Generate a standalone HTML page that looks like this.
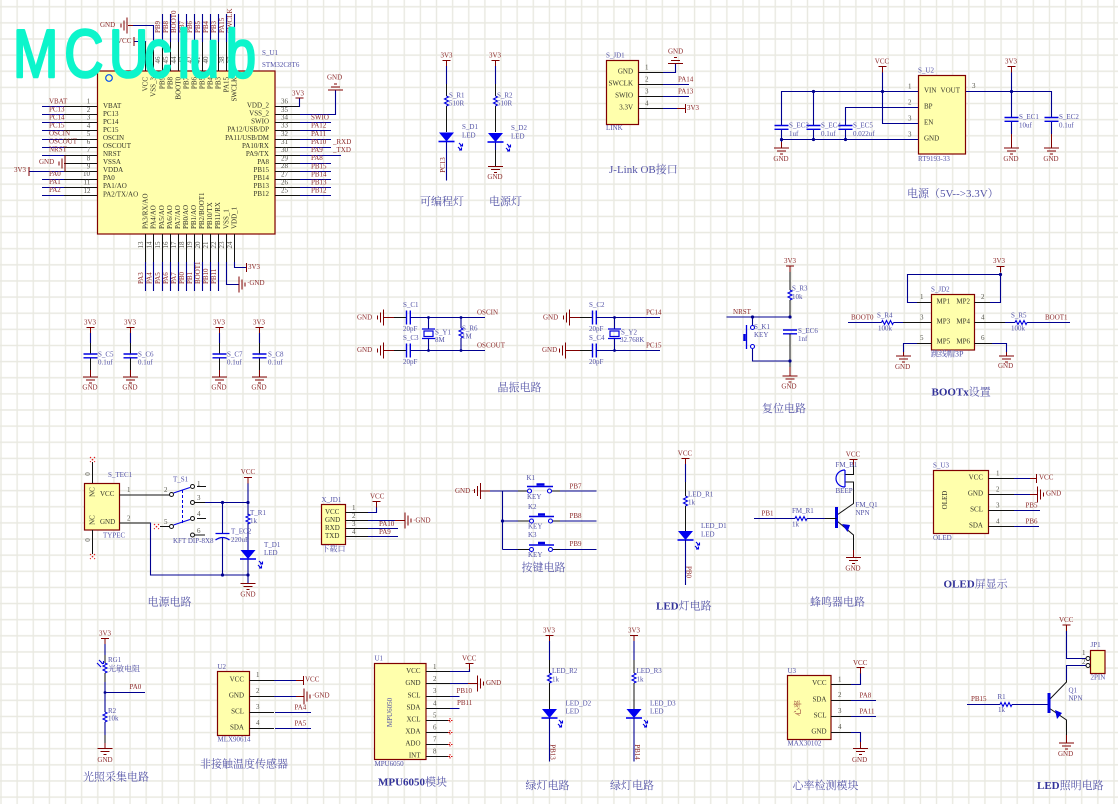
<!DOCTYPE html>
<html><head><meta charset="utf-8"><style>
html,body{margin:0;padding:0;background:#fff}
svg{display:block}
text{font-family:"Liberation Serif","Noto Serif CJK SC",serif;font-size:7px;dominant-baseline:central}
.p{fill:#33332a}.m{fill:#55554a}.r{fill:#8c2a2a}.b{fill:#5252a6}
.t text{font-size:11px;fill:#5656a8}
.t tspan.h{font-weight:bold;fill:#33339a}
.cj{font-size:8px}
.w{stroke:#000090;fill:none;stroke-width:1.1}
.k{stroke:#111;fill:none;stroke-width:1}
.d{stroke:#800000;fill:none;stroke-width:1}
.e{stroke:#0000e0;fill:none;stroke-width:1.1}
.box{fill:#ffffac;stroke:#800000;stroke-width:1.2}
.dot{fill:#000090}
.x{stroke:#e01010;fill:none;stroke-width:1;stroke-dasharray:1.5 1.5}
</style></head><body>
<svg width="1118" height="804" viewBox="0 0 1118 804" xmlns="http://www.w3.org/2000/svg">
<defs>
<pattern id="grid" x="1" y="6.74" width="16.13" height="16.13" patternUnits="userSpaceOnUse"><path d="M0 0V16.13M16.13 0V16.13M0 0H16.13M0 16.13H16.13" stroke="#e9e9e1" stroke-width="1.4" fill="none"/></pattern>
<g id="gd"><path class="d" d="M-7.5 0H7.5M-4.5 3H4.5M-1.5 6H1.5"/></g>
<g id="gu"><path class="d" d="M-7.5 0H7.5M-4.5 -3H4.5M-1.5 -6H1.5"/></g>
<g id="gl"><path class="d" d="M0 -8V8M-3 -5V5M-6 -2V2"/></g>
<g id="gr"><path class="d" d="M0 -8V8M3 -5V5M6 -2V2"/></g>
<g id="td"><path class="d" d="M-4 0H4M0 0V6"/></g>
<g id="rv"><path class="e" d="M0 0L2 1L-2 3L2 5L-2 7L2 9L0 10"/></g>
<g id="rh"><path class="e" d="M0 0L1 -2L3 2L5 -2L7 2L9 -2L11 2L12 0"/></g>
<g id="led"><path fill="#0000f0" d="M-7.5 0H7.5L0 9Z"/><path stroke="#0000f0" stroke-width="1.6" d="M-8 9H8"/></g>
<g id="ar"><path class="e" d="M0 0L3 3M1 3H3.5V0.5M-1 4L2 7M0 7H2.5V4.5"/></g>
<g id="cv"><path stroke="#0000e0" stroke-width="1.4" d="M-7 0H7M-7 3.8H7"/></g>
<g id="ch"><path stroke="#0000e0" stroke-width="1.4" d="M0 -7V7M3.8 -7V7"/></g>
</defs>
<rect width="1118" height="804" fill="#fff"/>
<rect width="1118" height="804" fill="url(#grid)"/>
<g style="filter:blur(.3px)">

<!-- MCU -->
<rect class="box" x="97.5" y="71" width="177.5" height="163"/>
<circle cx="109" cy="78" r="3.3" fill="none" stroke="#0050f0" stroke-width="1.2"/>
<path class="k" d="M64 106.5H97M64 114.5H97M64 122.5H97M64 130.5H97M64 139.5H97M64 147.5H97M64 155.5H97M64 163.5H97M64 171.5H97M64 179.5H97M64 187.5H97M64 195.5H97"/>
<path class="w" d="M42 106.5H64M42 114.5H64M42 122.5H64M42 130.5H64M42 139.5H64M42 147.5H64M42 155.5H64M42 179.5H64M42 187.5H64M42 195.5H64M29 171.5H64"/>
<path class="k" d="M275 106.5H299M275 114.5H300M275 122.5H300M275 130.5H300M275 139.5H300M275 147.5H300M275 155.5H300M275 163.5H300M275 171.5H300M275 179.5H300M275 187.5H300M275 195.5H300"/>
<path class="w" d="M299 106.5H299.5V98M300 114.5H335.5V90M300 122.5H331M300 130.5H331M300 139.5H331M300 147.5H331M300 155.5H341M300 163.5H331M300 171.5H331M300 179.5H331M300 187.5H331M300 195.5H331"/>
<path class="k" d="M145.5 71V42M153.5 71V42M162.5 71V42M170.5 71V42M178.5 71V42M186.5 71V42M194.5 71V42M202.5 71V42M210.5 71V42M218.5 71V42M226.5 71V42M234.5 71V42"/>
<path class="w" d="M145.5 42V41.5H134M153.5 42V25.5H133M162.5 42V14M170.5 42V14M178.5 42V14M186.5 42V14M194.5 42V14M202.5 42V14M210.5 42V14M218.5 42V14M226.5 42V14M234.5 42V14"/>
<path class="k" d="M145.5 234V262M153.5 234V262M162.5 234V262M170.5 234V262M178.5 234V262M186.5 234V262M194.5 234V262M202.5 234V262M210.5 234V262M218.5 234V262M226.5 234V262M234.5 234V262"/>
<path class="w" d="M145.5 262V291M153.5 262V291M162.5 262V291M170.5 262V291M178.5 262V291M186.5 262V291M194.5 262V291M202.5 262V291M210.5 262V291M218.5 262V291M226.5 262V284.5H239M234.5 262V267.5H246"/>
<path class="d" d="M134 37V46M29 167V176M299.5 98H295.5M299.5 98H303.5M246.5 263V272M133 25.5H128M64 163.5H65"/>
<use href="#gl" x="127" y="25.5"/><use href="#gl" x="65" y="163.5"/><use href="#gu" x="335.5" y="90"/><use href="#gr" x="239" y="284.5"/>
<g class="p">
<text x="103" y="106">VBAT</text><text x="103" y="114">PC13</text><text x="103" y="122">PC14</text><text x="103" y="130">PC15</text><text x="103" y="138">OSCIN</text><text x="103" y="146">OSCOUT</text><text x="103" y="154">NRST</text><text x="103" y="162">VSSA</text><text x="103" y="170">VDDA</text><text x="103" y="178">PA0</text><text x="103" y="186">PA1/AO</text><text x="103" y="194.5">PA2/TX/AO</text>
<g text-anchor="end"><text x="269" y="105.5">VDD_2</text><text x="269" y="113.5">VSS_2</text><text x="269" y="121.5">SWIO</text><text x="269" y="129.5">PA12/USB/DP</text><text x="269" y="138">PA11/USB/DM</text><text x="269" y="146">PA10/RX</text><text x="269" y="154">PA9/TX</text><text x="269" y="162">PA8</text><text x="269" y="170">PB15</text><text x="269" y="178">PB14</text><text x="269" y="186">PB13</text><text x="269" y="194">PB12</text>
<text x="145.5" y="77" transform="rotate(-90 145.5 77)">VCC</text><text x="153.5" y="77" transform="rotate(-90 153.5 77)">VSS_3</text><text x="162.5" y="77" transform="rotate(-90 162.5 77)">PB9</text><text x="170.5" y="77" transform="rotate(-90 170.5 77)">PB8</text><text x="178.5" y="77" transform="rotate(-90 178.5 77)">BOOT0</text><text x="186.5" y="77" transform="rotate(-90 186.5 77)">PB7</text><text x="194.5" y="77" transform="rotate(-90 194.5 77)">PB6</text><text x="202.5" y="77" transform="rotate(-90 202.5 77)">PB5</text><text x="210.5" y="77" transform="rotate(-90 210.5 77)">PB4</text><text x="218.5" y="77" transform="rotate(-90 218.5 77)">PB3</text><text x="226.5" y="77" transform="rotate(-90 226.5 77)">PA15</text><text x="234.5" y="77" transform="rotate(-90 234.5 77)">SWCLK</text></g>
<text x="145.5" y="229" transform="rotate(-90 145.5 229)">PA3/RX/AO</text><text x="153.5" y="229" transform="rotate(-90 153.5 229)">PA4/AO</text><text x="162" y="229" transform="rotate(-90 162 229)">PA5/AO</text><text x="170" y="229" transform="rotate(-90 170 229)">PA6/AO</text><text x="178" y="229" transform="rotate(-90 178 229)">PA7/AO</text><text x="186" y="229" transform="rotate(-90 186 229)">PB0/AO</text><text x="194" y="229" transform="rotate(-90 194 229)">PB1/AO</text><text x="202" y="229" transform="rotate(-90 202 229)">PB2/BOOT1</text><text x="210" y="229" transform="rotate(-90 210 229)">PB10/TX</text><text x="218" y="229" transform="rotate(-90 218 229)">PB11/RX</text><text x="226.5" y="229" transform="rotate(-90 226.5 229)">VSS_1</text><text x="234.5" y="229" transform="rotate(-90 234.5 229)">VDD_1</text>
</g>
<g class="m" text-anchor="middle">
<text x="88.5" y="101.5">1</text><text x="88.5" y="110">2</text><text x="88.5" y="117.5">3</text><text x="88.5" y="126">4</text><text x="88.5" y="134">5</text><text x="88.5" y="142">6</text><text x="88.5" y="150">7</text><text x="88.5" y="158.5">8</text><text x="88.5" y="166.5">9</text><text x="86.5" y="174">10</text><text x="87" y="182.5">11</text><text x="87" y="191">12</text>
<text x="284.5" y="101.5">36</text><text x="284.5" y="110">35</text><text x="284.5" y="117.5">34</text><text x="284.5" y="125.5">33</text><text x="284.5" y="134">32</text><text x="284.5" y="142">31</text><text x="284.5" y="150">30</text><text x="284.5" y="158.5">29</text><text x="284.5" y="166">28</text><text x="284.5" y="174.5">27</text><text x="284.5" y="182.5">26</text><text x="284.5" y="190.5">25</text>
<text x="141.5" y="60" transform="rotate(-90 141.5 60)">48</text><text x="149.5" y="60" transform="rotate(-90 149.5 60)">47</text><text x="158" y="60" transform="rotate(-90 158 60)">46</text><text x="166" y="60" transform="rotate(-90 166 60)">45</text><text x="174" y="60" transform="rotate(-90 174 60)">44</text><text x="182" y="60" transform="rotate(-90 182 60)">43</text><text x="190" y="60" transform="rotate(-90 190 60)">42</text><text x="198" y="60" transform="rotate(-90 198 60)">41</text><text x="206" y="60" transform="rotate(-90 206 60)">40</text><text x="214" y="60" transform="rotate(-90 214 60)">39</text><text x="222" y="60" transform="rotate(-90 222 60)">38</text><text x="230" y="60" transform="rotate(-90 230 60)">37</text>
<text x="141" y="245" transform="rotate(-90 141 245)">13</text><text x="149.5" y="245" transform="rotate(-90 149.5 245)">14</text><text x="158" y="245" transform="rotate(-90 158 245)">15</text><text x="166" y="245" transform="rotate(-90 166 245)">16</text><text x="174" y="245" transform="rotate(-90 174 245)">17</text><text x="182" y="245" transform="rotate(-90 182 245)">18</text><text x="190" y="245" transform="rotate(-90 190 245)">19</text><text x="198" y="245" transform="rotate(-90 198 245)">20</text><text x="206" y="245" transform="rotate(-90 206 245)">21</text><text x="214" y="245" transform="rotate(-90 214 245)">22</text><text x="222" y="245" transform="rotate(-90 222 245)">23</text><text x="230" y="245" transform="rotate(-90 230 245)">24</text>
</g>
<g class="r">
<text x="49" y="101.5">VBAT</text><text x="49" y="109.5">PC13</text><text x="49" y="117.5">PC14</text><text x="49" y="125.5">PC15</text><text x="49" y="133.5">OSCIN</text><text x="49" y="141.5">OSCOUT</text><text x="49" y="149.5">NRST</text><text x="49" y="174">PA0</text><text x="49" y="182">PA1</text><text x="49" y="190">PA2</text>
<text x="39" y="162">GND</text><text x="14" y="170">3V3</text><text x="100" y="25">GND</text><text x="117" y="41">VCC</text>
<text x="292" y="93.5">3V3</text><text x="327" y="77.5">GND</text>
<text x="311" y="117.5">SWIO</text><text x="311" y="125.5">PA12</text><text x="311" y="134">PA11</text><text x="311" y="142">PA10</text><text x="333" y="142">_RXD</text><text x="311" y="150">PA9</text><text x="333" y="150">_TXD</text><text x="311" y="158">PA8</text><text x="311" y="166.5">PB15</text><text x="311" y="174.5">PB14</text><text x="311" y="182.5">PB13</text><text x="311" y="190.5">PB12</text>
<text x="248" y="267">3V3</text><text x="247" y="283">·GND</text>
<text x="158" y="33" transform="rotate(-90 158 33)">PB9</text><text x="166" y="33" transform="rotate(-90 166 33)">PB8</text><text x="174" y="33" transform="rotate(-90 174 33)">BOOT0</text><text x="182" y="33" transform="rotate(-90 182 33)">PB7</text>
<text x="190" y="33" transform="rotate(-90 190 33)">PB6</text><text x="198" y="33" transform="rotate(-90 198 33)">PB5</text><text x="206" y="33" transform="rotate(-90 206 33)">PB4</text><text x="214" y="33" transform="rotate(-90 214 33)">PB3</text><text x="222" y="33" transform="rotate(-90 222 33)">PA15</text><text x="230" y="33" transform="rotate(-90 230 33)">SWCLK</text>
<text x="141" y="284" transform="rotate(-90 141 284)">PA3</text><text x="149.5" y="284" transform="rotate(-90 149.5 284)">PA4</text><text x="158" y="284" transform="rotate(-90 158 284)">PA5</text><text x="166" y="284" transform="rotate(-90 166 284)">PA6</text><text x="174" y="284" transform="rotate(-90 174 284)">PA7</text><text x="182" y="284" transform="rotate(-90 182 284)">PB0</text><text x="190" y="284" transform="rotate(-90 190 284)">PB1</text><text x="198" y="284" transform="rotate(-90 198 284)">BOOT1</text><text x="206" y="284" transform="rotate(-90 206 284)">PB10</text><text x="214" y="284" transform="rotate(-90 214 284)">PB11</text>
</g>
<g class="b"><text x="262" y="53">S_U1</text><text x="262" y="65">STM32C8T6</text></g>

<!-- LEDs PC13 / power -->
<use href="#td" x="446.5" y="60.5"/><use href="#td" x="495.5" y="60.5"/>
<path class="w" d="M446.5 66V84M495.5 66V84M446.5 141V180.5M495.5 141V150"/>
<path class="k" d="M446.5 84V96M446.5 106V132M495.5 84V96M495.5 106V132M495.5 150V166"/>
<use href="#rv" x="446.5" y="96"/><use href="#rv" x="495.5" y="96"/>
<use href="#led" x="446.5" y="132.5"/><use href="#led" x="495.5" y="133"/>
<use href="#ar" x="459" y="143"/><use href="#ar" x="507" y="144"/>
<use href="#gd" x="495.5" y="166.5"/>
<g class="r" text-anchor="middle"><text x="446.5" y="55.5">3V3</text><text x="495" y="55.5">3V3</text><text x="495" y="177">GND</text><text x="443" y="165" transform="rotate(-90 443 165)">PC13</text></g>
<g class="b"><text x="449" y="95.5">S_R1</text><text x="449" y="103.5">510R</text><text x="497" y="95.5">S_R2</text><text x="497" y="103.5">510R</text><text x="462" y="127">S_D1</text><text x="462" y="135.5">LED</text><text x="511" y="128">S_D2</text><text x="511" y="136.5">LED</text></g>

<!-- JD1 -->
<rect class="box" x="606.5" y="60.5" width="32" height="64"/>
<path class="k" d="M638.5 72.5H663M638.5 84.5H663M638.5 96.5H663M638.5 108.5H663"/>
<path class="w" d="M663 72.5H675.5V64M663 84.5H689M663 96.5H689M663 108.5H677"/>
<path class="d" d="M677 108.5H685.5M685.5 104V113"/>
<use href="#gu" x="675.5" y="63.5"/>
<g class="p" text-anchor="end"><text x="633" y="71.5">GND</text><text x="633" y="83.5">SWCLK</text><text x="633" y="95.5">SWIO</text><text x="633" y="107.5">3.3V</text></g>
<g class="m"><text x="645" y="67.5">1</text><text x="645" y="79.5">2</text><text x="645" y="91.5">3</text><text x="645" y="103.5">4</text></g>
<g class="r"><text x="668" y="51.5">GND</text><text x="678" y="79.5">PA14</text><text x="678" y="91.5">PA13</text><text x="687" y="108">3V3</text></g>
<g class="b"><text x="606" y="55.5">S_JD1</text><text x="606" y="128">LINK</text></g>

<!-- Regulator -->
<rect class="box" x="918.5" y="75.5" width="47" height="78.5"/>
<path class="w" d="M918 91.5H781.5V125.5M813.5 91.5V125.5M918 107.5H845.5V125.5M882.5 72V123.5H918M781.5 129.5V139.5M813.5 129.5V139.5M845.5 129.5V139.5M781.5 139.5H918M781.5 139.5V142M966 91.5H1051.5V117M1011.5 72V117M1011.5 121V134M1051.5 121V134"/>
<path class="d" d="M781.5 142V148M1011.5 134V148M1051.5 134V148"/>
<use href="#td" x="882.5" y="66.5"/><use href="#td" x="1011.5" y="66.5"/>
<use href="#cv" x="781.5" y="125.5"/><use href="#cv" x="813.5" y="125.5"/><use href="#cv" x="845.5" y="125.5"/><use href="#cv" x="1011.5" y="117.5"/><use href="#cv" x="1051.5" y="117.5"/>
<use href="#gd" x="781.5" y="148"/><use href="#gd" x="1011.5" y="148"/><use href="#gd" x="1051.5" y="148"/>
<g class="dot"><circle cx="813.5" cy="91.5" r="1.6"/><circle cx="882.5" cy="91.5" r="1.6"/><circle cx="781.5" cy="139.5" r="1.6"/><circle cx="813.5" cy="139.5" r="1.6"/><circle cx="845.5" cy="139.5" r="1.6"/><circle cx="1011.5" cy="91.5" r="1.6"/></g>
<g class="p"><text x="924" y="90.5">VIN</text><text x="960" y="90.5" text-anchor="end">VOUT</text><text x="924" y="106.5">BP</text><text x="924" y="122.5">EN</text><text x="924" y="138.5">GND</text></g>
<g class="m"><text x="908" y="86.5">1</text><text x="908" y="102.5">2</text><text x="908" y="118.5">3</text><text x="908" y="134.5">3</text><text x="972" y="86">3</text></g>
<g class="r" text-anchor="middle"><text x="882" y="61.5">VCC</text><text x="1011" y="61.5">3V3</text><text x="781" y="159">GND</text><text x="1011" y="159">GND</text><text x="1051" y="159">GND</text></g>
<g class="b"><text x="918" y="70.5">S_U2</text><text x="918" y="159">RT9193-33</text><text x="789" y="125.5">S_EC3</text><text x="789" y="134">1uf</text><text x="821" y="125.5">S_EC4</text><text x="821" y="134">0.1uf</text><text x="853" y="125.5">S_EC5</text><text x="853" y="134">0.022uf</text><text x="1019" y="117">S_EC1</text><text x="1019" y="125.5">10uf</text><text x="1059" y="117">S_EC2</text><text x="1059" y="125.5">0.1uf</text></g>

<!-- Decoupling -->
<use href="#td" x="90.5" y="327.5"/><use href="#td" x="130.5" y="327.5"/><use href="#td" x="219.5" y="327.5"/><use href="#td" x="259.5" y="327.5"/>
<path class="w" d="M90.5 333V343M130.5 333V343M219.5 333V343M259.5 333V343"/>
<path class="k" d="M90.5 343V354M130.5 343V354M219.5 343V354M259.5 343V354M90.5 358V370M130.5 358V370M219.5 358V370M259.5 358V370"/>
<path class="d" d="M90.5 370V377M130.5 370V377M219.5 370V377M259.5 370V377"/>
<use href="#cv" x="90.5" y="354"/><use href="#cv" x="130.5" y="354"/><use href="#cv" x="219.5" y="354"/><use href="#cv" x="259.5" y="354"/>
<use href="#gd" x="90.5" y="377"/><use href="#gd" x="130.5" y="377"/><use href="#gd" x="219.5" y="377"/><use href="#gd" x="259.5" y="377"/>
<g class="r" text-anchor="middle"><text x="90" y="322.5">3V3</text><text x="130" y="322.5">3V3</text><text x="219" y="322.5">3V3</text><text x="259" y="322.5">3V3</text><text x="90" y="387.5">GND</text><text x="130" y="387.5">GND</text><text x="219" y="387.5">GND</text><text x="259" y="387.5">GND</text></g>
<g class="b"><text x="98" y="354.5">S_C5</text><text x="98" y="362.5">0.1uf</text><text x="138" y="354.5">S_C6</text><text x="138" y="362.5">0.1uf</text><text x="227" y="354.5">S_C7</text><text x="227" y="362.5">0.1uf</text><text x="268" y="354.5">S_C8</text><text x="268" y="362.5">0.1uf</text></g>

<!-- Crystal 1 -->
<use href="#gl" x="383.5" y="317.5"/><use href="#gl" x="383.5" y="350.5"/>
<path class="d" d="M383.5 317.5H394M383.5 350.5H394"/>
<path class="k" d="M394 317.5H406M394 350.5H406"/>
<use href="#ch" x="406.5" y="317.5"/><use href="#ch" x="406.5" y="350.5"/>
<path class="w" d="M410 317.5H485M410 350.5H485M428.5 317.5V329M428.5 339V350.5M461 317.5V328M461 338V350.5"/>
<use href="#rv" x="461" y="328"/>
<rect x="424" y="331" width="9" height="5.5" fill="none" stroke="#0000e0" stroke-width="1.2"/><path stroke="#0000e0" stroke-width="1.2" d="M422 329H435M422 338.5H435"/>
<g class="dot"><circle cx="428.5" cy="317.5" r="1.4"/><circle cx="461" cy="317.5" r="1.4"/><circle cx="428.5" cy="350.5" r="1.4"/><circle cx="461" cy="350.5" r="1.4"/></g>
<g class="r"><text x="357" y="317.5">GND</text><text x="357" y="350">GND</text><text x="477" y="312.5">OSCIN</text><text x="477" y="345.5">OSCOUT</text></g>
<g class="b"><text x="403" y="305">S_C1</text><text x="403" y="329">20pF</text><text x="403" y="338">S_C3</text><text x="403" y="362">20pF</text><text x="435" y="332.5">S_Y1</text><text x="435" y="340">8M</text><text x="462" y="328.5">S_R6</text><text x="462" y="336.5">1M</text></g>

<!-- Crystal 2 -->
<use href="#gl" x="569.5" y="317.5"/><use href="#gl" x="565.5" y="350.5"/>
<path class="d" d="M569.5 317.5H580M565.5 350.5H580"/>
<path class="k" d="M580 317.5H592M580 350.5H592"/>
<use href="#ch" x="592.5" y="317.5"/><use href="#ch" x="592.5" y="350.5"/>
<path class="w" d="M596 317.5H660M596 350.5H660M614.5 317.5V329M614.5 339V350.5"/>
<rect x="610" y="331" width="9" height="5.5" fill="none" stroke="#0000e0" stroke-width="1.2"/><path stroke="#0000e0" stroke-width="1.2" d="M608 329H621M608 338.5H621"/>
<g class="dot"><circle cx="614.5" cy="317.5" r="1.4"/><circle cx="614.5" cy="350.5" r="1.4"/></g>
<g class="r"><text x="543" y="317.5">GND</text><text x="542" y="350">GND</text><text x="646" y="312.5">PC14</text><text x="646" y="345.5">PC15</text></g>
<g class="b"><text x="589" y="305">S_C2</text><text x="589" y="329">20pF</text><text x="589" y="338">S_C4</text><text x="589" y="362">20pF</text><text x="621" y="332.5">S_Y2</text><text x="620" y="340">32.768K</text></g>

<!-- Reset -->
<use href="#td" x="790" y="266"/><use href="#rv" x="790" y="290"/><use href="#cv" x="790" y="330"/><use href="#gd" x="790" y="376"/>
<path class="k" d="M790 272V290M790 300V317M790 334V367"/>
<path class="d" d="M790 367V376"/>
<path class="w" d="M726.5 317H790M752.5 317V326M752.5 349V361H790"/>
<circle cx="752.5" cy="327.5" r="2" fill="#fff" stroke="#0000e0" stroke-width="1.1"/><circle cx="752.5" cy="346.5" r="2" fill="#fff" stroke="#0000e0" stroke-width="1.1"/>
<path stroke="#0000e0" stroke-width="1.3" d="M746.5 325V349"/><path stroke="#0000e0" stroke-width="2.5" d="M744.5 334V341"/>
<g class="dot"><circle cx="790" cy="317" r="1.6"/><circle cx="752.5" cy="317" r="1.6"/><circle cx="790" cy="361" r="1.6"/></g>
<g class="r" text-anchor="middle"><text x="790" y="261">3V3</text><text x="742" y="312">NRST</text><text x="789" y="386.5">GND</text></g>
<g class="b"><text x="792" y="288.5">S_R3</text><text x="792" y="297">10k</text><text x="754" y="327">S_K1</text><text x="754" y="335">KEY</text><text x="798" y="331">S_EC6</text><text x="798" y="339">1nf</text></g>

<!-- BOOT -->
<rect class="box" x="931.5" y="294.5" width="43" height="55.5"/>
<path class="k" d="M931.5 302.5H917M931.5 322.5H903M931.5 343.5H917M974.5 302.5H990M974.5 322.5H1005M974.5 343.5H992"/>
<path class="w" d="M917 302.5H907.5V274.5H1000.5V302.5H990M917 343.5H903.5V352M992 343.5H1006.5V352M848 322.5H881.5M893.5 322.5H903M1005 322.5H1015M1027 322.5H1070"/>
<path class="d" d="M903.5 352V356M1006.5 352V356"/>
<use href="#td" x="1000.5" y="266.5"/><use href="#rh" x="881.5" y="322.5"/><use href="#rh" x="1015" y="322.5"/><use href="#gd" x="903.5" y="356"/><use href="#gd" x="1006.5" y="356"/>
<circle class="dot" cx="1000.5" cy="274.5" r="1.6"/>
<g class="p"><text x="936.5" y="301.5">MP1</text><text x="970" y="301.5" text-anchor="end">MP2</text><text x="936.5" y="321.5">MP3</text><text x="970" y="321.5" text-anchor="end">MP4</text><text x="936.5" y="341.5">MP5</text><text x="970" y="341.5" text-anchor="end">MP6</text></g>
<g class="m"><text x="920" y="297">1</text><text x="981" y="297">2</text><text x="920" y="317.5">3</text><text x="981" y="317.5">4</text><text x="920" y="338">5</text><text x="981" y="338">6</text></g>
<g class="r"><text x="851" y="317.5">BOOT0</text><text x="1045" y="317.5">BOOT1</text><text x="993" y="261">3V3</text><text x="895" y="367">GND</text><text x="998" y="366">GND</text></g>
<g class="b"><text x="931" y="289.5">S_JD2</text><text class="cj" x="931" y="354">跳线帽3P</text><text x="877" y="315.5">S_R4</text><text x="878" y="328.5">100k</text><text x="1011" y="315.5">S_R5</text><text x="1011" y="328.5">100k</text></g>

<!-- USB power -->
<rect class="box" x="84.5" y="483.5" width="35" height="46.5"/>
<path class="k" d="M92.5 483V462M92.5 530V554M119.5 495H150M119.5 523H150"/>
<path class="x" d="M90 457L95 462M95 457L90 462M90 554L95 559M95 554L90 559M154 524L159 529M159 524L154 529"/>
<path class="k" d="M150 495H170M194.5 502.5H205M169.5 526.5H160M197 486.5H206M197 518.5H206M194.5 535H205"/>
<path class="w" d="M205 502.5H248M150 523H150.5V575H248M222.5 502.5V533M222.5 538V575M248 483V515M248 523V550M248 559V583"/>
<use href="#td" x="248" y="477.5"/><use href="#rv" x="248" y="514"/><use href="#led" x="248" y="550"/><use href="#gd" x="248" y="583.5"/><use href="#ar" x="259" y="561"/>
<path stroke="#0000e0" stroke-width="1.3" fill="none" d="M215.5 533.5H229.5M215.5 540Q222.5 535 229.5 540"/>
<path class="e" d="M173.5 493L190 487.5M173.5 525L190 519.5"/>
<path stroke="#0000e0" fill="none" stroke-dasharray="3 2" d="M182.5 490V523"/>
<g fill="#fff" stroke="#111" stroke-width="1"><circle cx="171.5" cy="494.5" r="2"/><circle cx="192.5" cy="486.5" r="2"/><circle cx="192.5" cy="502.5" r="2"/><circle cx="192.5" cy="518.5" r="2"/><circle cx="171.5" cy="526.5" r="2"/><circle cx="192.5" cy="535" r="2"/></g>
<g class="dot"><circle cx="222.5" cy="502.5" r="1.6"/><circle cx="248" cy="502.5" r="1.6"/><circle cx="222.5" cy="575" r="1.6"/><circle cx="248" cy="575" r="1.6"/></g>
<g class="p"><text x="100" y="494">VCC</text><text x="100" y="522">GND</text><text x="92.5" y="492" text-anchor="middle" transform="rotate(-90 92.5 492)">NC</text><text x="92.5" y="520" text-anchor="middle" transform="rotate(-90 92.5 520)">NC</text></g>
<g class="m"><text x="88" y="474" transform="rotate(-90 88 474)" text-anchor="middle">0</text><text x="88" y="540" transform="rotate(-90 88 540)" text-anchor="middle">0</text><text x="127" y="490">1</text><text x="127" y="518.5">2</text><text x="164" y="490">2</text><text x="197" y="484">1</text><text x="197" y="498">3</text><text x="197" y="514">4</text><text x="164" y="522">5</text><text x="197" y="531">6</text></g>
<g class="r" text-anchor="middle"><text x="248" y="472">VCC</text><text x="248" y="594.5">GND</text></g>
<g class="b"><text x="108" y="475">S_TEC1</text><text x="103" y="535.5">TYPEC</text><text x="173" y="479.5">T_S1</text><text x="173" y="541">KFT DIP-8X8</text><text x="231" y="531.5">T_EC2</text><text x="231" y="540">220uF</text><text x="250" y="513">T_R1</text><text x="250" y="521">1k</text><text x="264" y="545">T_D1</text><text x="264" y="553">LED</text></g>

<!-- X_JD1 -->
<rect class="box" x="321.5" y="504.5" width="24" height="40"/>
<path class="k" d="M345.5 512.5H368M345.5 520.5H368M345.5 528.5H368M345.5 536.5H368"/>
<path class="w" d="M368 512.5H376.5V507M368 520.5H395M368 528.5H398M368 536.5H398"/>
<path class="d" d="M395 520.5H405"/>
<use href="#td" x="376.5" y="501.5"/><use href="#gr" x="405" y="520.5"/>
<g class="p"><text x="325" y="512">VCC</text><text x="325" y="520">GND</text><text x="325" y="528">RXD</text><text x="325" y="536">TXD</text></g>
<g class="m"><text x="352" y="508">1</text><text x="352" y="516">2</text><text x="352" y="524">3</text><text x="352" y="532">4</text></g>
<g class="r"><text x="370" y="496.5">VCC</text><text x="379" y="524">PA10</text><text x="379" y="532">PA9</text><text x="413" y="520.5">·GND</text></g>
<g class="b"><text x="321.5" y="500">X_JD1</text><text class="cj" x="321.5" y="549">下载口</text></g>

<!-- Keys -->
<use href="#gl" x="480.5" y="491"/>
<path class="d" d="M480.5 491H490"/>
<path class="w" d="M490 491H518M502.5 491V549.5M502.5 521H518M502.5 549.5H518M560 491H596.5M560 521H596.5M560 549.5H596.5"/>
<path class="k" d="M518 491H527M518 521H529M518 549.5H529M551 491H560M553 521H560M553 549.5H560"/>
<path stroke="#0000e0" stroke-width="1.4" d="M527 486.5H553M529 516.5H554M529 545H554"/>
<path stroke="#0000e0" stroke-width="2.5" d="M536.5 484.5H544.5M538 514.5H545M538 543H545"/>
<g fill="#fff" stroke="#0000e0" stroke-width="1.1"><circle cx="529.5" cy="491" r="2"/><circle cx="549.5" cy="491" r="2"/><circle cx="531.5" cy="521" r="2"/><circle cx="550.5" cy="521" r="2"/><circle cx="531.5" cy="549.5" r="2"/><circle cx="550.5" cy="549.5" r="2"/></g>
<circle class="dot" cx="502.5" cy="521" r="1.6"/>
<g class="r"><text x="455" y="491">GND ·</text><text x="569.5" y="486.5">PB7</text><text x="569.5" y="516">PB8</text><text x="569.5" y="544">PB9</text></g>
<g class="b"><text x="526.5" y="478">K1</text><text x="527" y="497">KEY</text><text x="528" y="507">K2</text><text x="528" y="526.5">KEY</text><text x="528" y="535">K3</text><text x="528" y="555">KEY</text></g>

<!-- LED_D1 -->
<use href="#td" x="685.5" y="458.5"/><use href="#rv" x="685.5" y="496"/><use href="#led" x="685.5" y="531"/><use href="#ar" x="696" y="542"/>
<path class="w" d="M685.5 464V482M685.5 540V585"/><path class="k" d="M685.5 482V496M685.5 506V531"/>
<g class="r" text-anchor="middle"><text x="685" y="453.5">VCC</text><text x="688.5" y="572" transform="rotate(90 688.5 572)">PB0</text></g>
<g class="b"><text x="688" y="494.5">LED_R1</text><text x="688" y="502.5">1k</text><text x="701" y="526">LED_D1</text><text x="701" y="534.5">LED</text></g>

<!-- Buzzer -->
<use href="#td" x="853.5" y="459.5"/>
<path class="k" d="M853.5 465V474.5H845M845 482H853.5V503.5L837 515M837 521L853.5 535V550"/>
<path stroke="#0000e0" stroke-width="1.2" fill="none" d="M845 470V487M845 470A9 8.5 0 0 0 845 487"/>
<path stroke="#0000e0" stroke-width="3" d="M836.5 507V528"/>
<path class="w" d="M754 518.5H795M807 518.5H825"/><path class="k" d="M825 518.5H836.5"/>
<use href="#rh" x="795" y="518.5"/><path fill="#0000e0" d="M842 524L850 525L847.5 532Z"/>
<path class="d" d="M853.5 550V557"/><use href="#gd" x="853.5" y="557.5"/>
<g class="r" text-anchor="middle"><text x="853" y="454.5">VCC</text><text x="853" y="568.5">GND</text></g>
<g class="r"><text x="761.5" y="513.5">PB1</text></g>
<g class="b"><text x="835.5" y="465">FM_B1</text><text x="835.5" y="491">BEEP</text><text x="855.5" y="505">FM_Q1</text><text x="855.5" y="513">NPN</text><text x="792" y="511">FM_R1</text><text x="792" y="524.5">1k</text></g>

<!-- OLED -->
<rect class="box" x="933.5" y="470.5" width="55" height="63"/>
<path class="k" d="M988.5 478.5H1014M988.5 494.5H1014M988.5 510.5H1014M988.5 526.5H1014"/>
<path class="w" d="M1014 478.5H1030M1014 494.5H1030M1014 510.5H1040M1014 526.5H1039"/>
<path class="d" d="M1030 478.5H1036.5M1036.5 474V483M1030 494.5H1037.5"/>
<use href="#gr" x="1037.5" y="494.5"/>
<g class="p" text-anchor="end"><text x="983" y="477.5">VCC</text><text x="983" y="493.5">GND</text><text x="983" y="509.5">SCL</text><text x="983" y="525.5">SDA</text></g>
<text class="p" x="945" y="500" text-anchor="middle" transform="rotate(-90 945 500)">OLED</text>
<g class="m"><text x="996" y="473.5">1</text><text x="996" y="489.5">2</text><text x="996" y="505.5">3</text><text x="996" y="521.5">4</text></g>
<g class="r"><text x="1039" y="477.5">VCC</text><text x="1046" y="493.5">GND</text><text x="1025.5" y="505.5">PB5</text><text x="1025.5" y="521.5">PB6</text></g>
<g class="b"><text x="933" y="465.5">S_U3</text><text x="933" y="538">OLED</text></g>

<!-- Photo -->
<use href="#td" x="105" y="638.5"/><use href="#rv" x="105" y="663"/><use href="#rv" x="105" y="712"/><use href="#gd" x="105" y="748.5"/>
<path class="e" d="M99 660L103 664M101.5 663.5H103.5V661M97 663L101 667"/>
<path class="w" d="M105 644V655M105 682V712M105 692.5H145M105 722V735"/>
<path class="k" d="M105 655V663M105 673V682M105 735V743"/><path class="d" d="M105 743V748"/>
<circle class="dot" cx="105" cy="692.5" r="1.4"/>
<g class="r"><text x="129.5" y="687">PA0</text></g><g class="r" text-anchor="middle"><text x="105" y="633.5">3V3</text><text x="105" y="760">GND</text></g>
<g class="b"><text x="108" y="660">RG1</text><text class="cj" x="108" y="669">光敏电阻</text><text x="108" y="711">R2</text><text x="108" y="718.5">10k</text></g>

<!-- U2 -->
<rect class="box" x="217.5" y="671.5" width="32" height="64"/>
<path class="k" d="M249.5 680.5H274M249.5 696.5H274M249.5 712.5H274M249.5 728.5H274"/>
<path class="w" d="M274 680.5H296M274 696.5H296M275 712.5H311M275 728.5H311"/>
<path class="d" d="M296 680.5H303.5M303.5 676V685M296 696.5H304"/>
<use href="#gr" x="304" y="696.5"/>
<g class="p" text-anchor="end"><text x="244" y="679.5">VCC</text><text x="244" y="695.5">GND</text><text x="244" y="711.5">SCL</text><text x="244" y="727.5">SDA</text></g>
<g class="m"><text x="256" y="675">1</text><text x="256" y="691">2</text><text x="256" y="707">3</text><text x="256" y="723">4</text></g>
<g class="r"><text x="305" y="679.5">VCC</text><text x="312" y="695.5">·GND</text><text x="294.5" y="707.5">PA4</text><text x="294.5" y="723.5">PA5</text></g>
<g class="b"><text x="217.5" y="667">U2</text><text x="217.5" y="739.5">MLX90614</text></g>

<!-- U1 -->
<rect class="box" x="374.5" y="663.5" width="51.5" height="96"/>
<path class="k" d="M426 671.5H450M426 683.5H450M426 696.5H450M426 708.5H450M426 720.5H450M426 732.5H450M426 744.5H450M426 756.5H450"/>
<path class="w" d="M450 671.5H469.5V669M450 683.5H468M450 696.5H459.5M450 708.5H459.5"/>
<path class="d" d="M468 683.5H477.5"/>
<use href="#td" x="469.5" y="663.5"/><use href="#gr" x="477.5" y="683.5"/>
<path class="x" d="M450 718V723M448 720.5H453M450 730V735M448 732.5H453M450 742V747M448 744.5H453M450 754V759M448 756.5H453"/>
<g class="p" text-anchor="end"><text x="420.5" y="671">VCC</text><text x="420.5" y="683">GND</text><text x="420.5" y="695.5">SCL</text><text x="420.5" y="707.5">SDA</text><text x="420.5" y="719.5">XCL</text><text x="420.5" y="731.5">XDA</text><text x="420.5" y="743.5">ADO</text><text x="420.5" y="755.5">INT</text></g>
<text class="b" x="390" y="712.5" text-anchor="middle" transform="rotate(-90 390 712.5)">MPU6050</text>
<g class="m"><text x="433" y="667">1</text><text x="433" y="679">2</text><text x="433" y="691">3</text><text x="433" y="703.5">4</text><text x="433" y="715.5">5</text><text x="433" y="727.5">6</text><text x="433" y="739.5">7</text><text x="433" y="751.5">8</text></g>
<g class="r"><text x="462" y="658.5">VCC</text><text x="486" y="683">GND</text><text x="456.5" y="691">PB10</text><text x="457" y="703">PB11</text></g>
<g class="b"><text x="374.5" y="658.5">U1</text><text x="374.5" y="764">MPU6050</text></g>

<!-- LED D2 D3 -->
<use href="#td" x="549.5" y="635.5"/><use href="#rv" x="549.5" y="673"/><use href="#led" x="549.5" y="709"/><use href="#ar" x="559" y="720"/>
<use href="#td" x="634" y="635.5"/><use href="#rv" x="634" y="673"/><use href="#led" x="634" y="709"/><use href="#ar" x="644" y="720"/>
<path class="w" d="M549.5 641V660M549.5 718V761.5M634 641V660M634 718V761.5"/>
<path class="k" d="M549.5 660V673M549.5 683V709M634 660V673M634 683V709"/>
<g class="r" text-anchor="middle"><text x="549" y="630.5">3V3</text><text x="634" y="630.5">3V3</text><text x="552.5" y="752" transform="rotate(90 552.5 752)">PB13</text><text x="637" y="752" transform="rotate(90 637 752)">PB14</text></g>
<g class="b"><text x="552" y="671">LED_R2</text><text x="552" y="679.5">1k</text><text x="565.5" y="703.5">LED_D2</text><text x="565.5" y="711.5">LED</text><text x="636.5" y="671">LED_R3</text><text x="636.5" y="679.5">1k</text><text x="650" y="703.5">LED_D3</text><text x="650" y="711.5">LED</text></g>

<!-- U3 -->
<rect class="box" x="787.5" y="675.5" width="43.5" height="64"/>
<path class="k" d="M831 684.5H851M831 700.5H851M831 716.5H851M831 732.5H851"/>
<path class="w" d="M851 684.5H860.5V673M851 700.5H876M851 716.5H876M851 732.5H860.5V742"/>
<path class="d" d="M860.5 742V748"/>
<use href="#td" x="860.5" y="667.5"/><use href="#gd" x="860.5" y="748.5"/>
<g class="p" text-anchor="end"><text x="826.5" y="683">VCC</text><text x="826.5" y="699.5">SDA</text><text x="826.5" y="715.5">SCL</text><text x="826.5" y="731.5">GND</text></g>
<text class="r cj" x="798" y="708" text-anchor="middle" transform="rotate(-90 798 708)">心率</text>
<g class="m"><text x="838" y="679.5">1</text><text x="838" y="695">2</text><text x="838" y="711">3</text><text x="838" y="727">4</text></g>
<g class="r"><text x="853" y="663">VCC</text><text x="859.5" y="695.5">PA8</text><text x="859.5" y="711.5">PA11</text><text x="852" y="760">GND</text></g>
<g class="b"><text x="787.5" y="671">U3</text><text x="787.5" y="743.5">MAX30102</text></g>

<!-- LED lamp -->
<use href="#td" x="1066.5" y="625"/>
<path class="w" d="M1066.5 631V658.5H1086M1086 665.5H1066.5V680M967 704.5H1000M1012 704.5H1049"/>
<path class="k" d="M1066.5 680V682L1049 700M1049 708L1066.5 720V735"/><path class="d" d="M1066.5 735V743"/>
<use href="#rh" x="1000" y="704.5"/><use href="#gd" x="1066.5" y="743"/>
<path stroke="#0000e0" stroke-width="3" d="M1049 693V713"/><path fill="#0000e0" d="M1055 710L1062 713L1057 719Z"/>
<rect class="box" x="1090.5" y="650.5" width="14.5" height="23"/>
<circle cx="1088" cy="658.5" r="2" fill="#fff" stroke="#111"/><circle cx="1088" cy="665.5" r="2" fill="#fff" stroke="#111"/>
<g class="m"><text x="1082" y="653">1</text><text x="1082" y="662">2</text></g>
<g class="r"><text x="1059" y="620">VCC</text><text x="971" y="699">PB15</text><text x="1058" y="754">GND</text></g>
<g class="b"><text x="1090.5" y="645">JP1</text><text x="1090.5" y="677.5">2PIN</text><text x="1068.5" y="690.5">Q1</text><text x="1068.5" y="698.5">NPN</text><text x="997.5" y="697">R1</text><text x="998" y="710">1k</text></g>

<!-- Titles -->
<g class="t">
<text x="420" y="202">可编程灯</text><text x="489" y="202">电源灯</text><text x="609" y="170">J-Link OB接口</text><text x="907" y="194">电源（5V--&gt;3.3V）</text>
<text x="497.5" y="388">晶振电路</text><text x="762" y="409">复位电路</text><text x="931.5" y="392.5"><tspan class="h">BOOTx</tspan>设置</text>
<text x="147.5" y="602.5">电源电路</text><text x="521.5" y="568">按键电路</text><text x="656" y="606.5"><tspan class="h">LED</tspan>灯电路</text><text x="810" y="602.5">蜂鸣器电路</text><text x="943.5" y="584.5"><tspan class="h">OLED</tspan>屏显示</text>
<text x="83" y="777.5">光照采集电路</text><text x="200" y="764.5">非接触温度传感器</text><text x="378" y="782.5"><tspan class="h">MPU6050</tspan>模块</text><text x="525.5" y="786">绿灯电路</text><text x="610" y="786">绿灯电路</text><text x="792.5" y="786">心率检测模块</text><text x="1037" y="786"><tspan class="h">LED</tspan>照明电路</text>
</g>

<!-- Watermark -->
<text transform="translate(13,77) scale(.8,1)" x="0 64 120 164 206 220 266" y="0" style="font-family:'Liberation Sans',sans-serif;font-size:68px;dominant-baseline:alphabetic" fill="#0cf5cb" stroke="#0cf5cb" stroke-width="2.6" stroke-linejoin="round" stroke-linecap="round">MCUclub</text>
</g>
</svg>
</body></html>
